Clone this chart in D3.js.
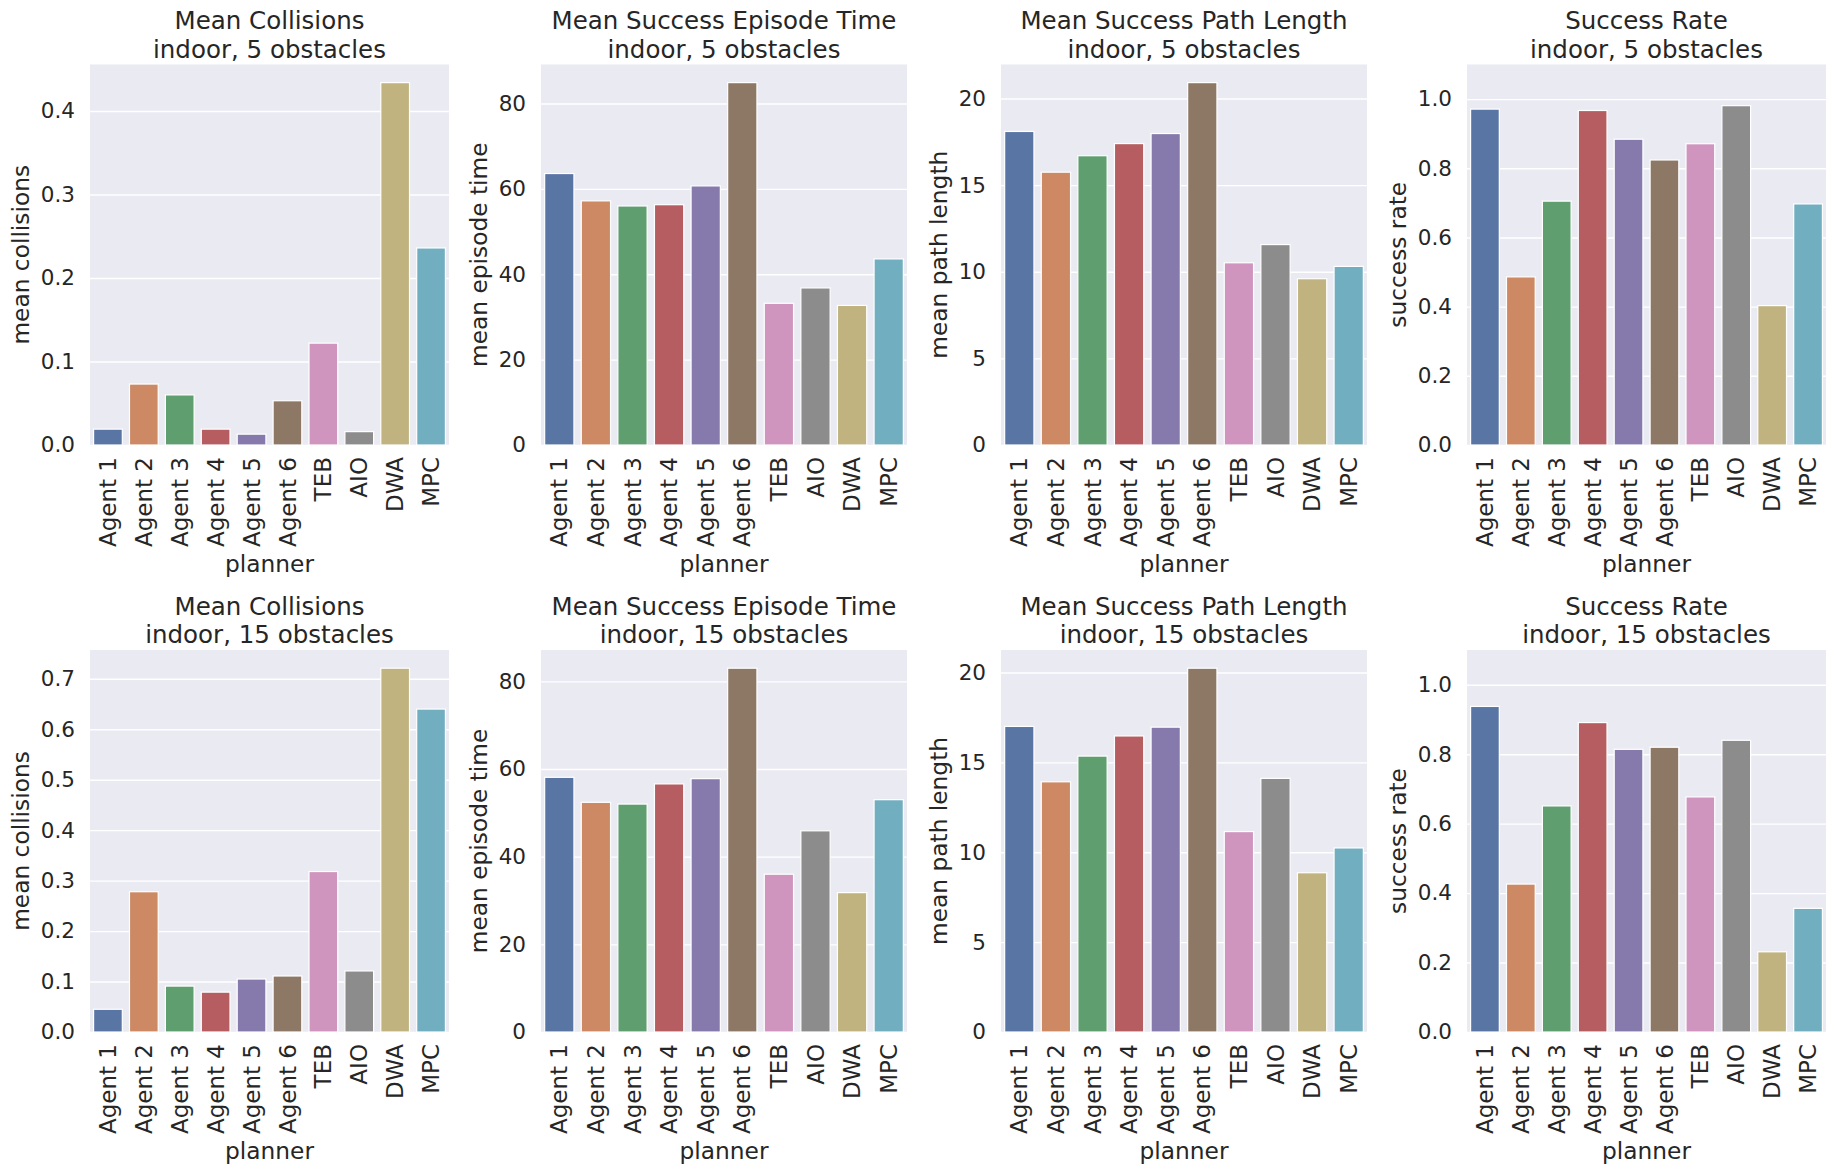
<!DOCTYPE html>
<html>
<head>
<meta charset="utf-8">
<script src="https://cdn.jsdelivr.net/npm/d3@7"></script>
<style>
  html, body { margin: 0; padding: 0; background: #ffffff; }
  svg { display: block; }
  text { font-family: "DejaVu Sans", sans-serif; fill: #262626; }
</style>
</head>
<body>
<svg id="chart" width="1837" height="1174"></svg>
<script>
// ---------------- data ----------------
const planners = ["Agent 1", "Agent 2", "Agent 3", "Agent 4", "Agent 5", "Agent 6", "TEB", "AIO", "DWA", "MPC"];
const barColors = ["#5975a4", "#cc8963", "#5f9e6e", "#b55d60", "#857aab", "#8d7866", "#d095bf", "#8c8c8c", "#c1b37f", "#71aec0"];

const metricTitles = ["Mean Collisions", "Mean Success Episode Time", "Mean Success Path Length", "Success Rate"];
const metricYLabels = ["mean collisions", "mean episode time", "mean path length", "success rate"];
const scenarioTitles = ["indoor, 5 obstacles", "indoor, 15 obstacles"];
const xLabel = "planner";

// indoor, 5 obstacles
const collisions5   = [0.019, 0.073, 0.060, 0.019, 0.013, 0.053, 0.122, 0.016, 0.434, 0.236];
const episodeTime5  = [63.6, 57.2, 56.0, 56.3, 60.7, 84.9, 33.2, 36.8, 32.7, 43.6];
const pathLength5   = [18.1, 15.75, 16.7, 17.4, 17.98, 20.92, 10.52, 11.57, 9.6, 10.31];
const successRate5  = [0.971, 0.486, 0.705, 0.967, 0.884, 0.824, 0.871, 0.981, 0.403, 0.697];

// indoor, 15 obstacles
const collisions15  = [0.045, 0.278, 0.091, 0.079, 0.105, 0.111, 0.318, 0.121, 0.721, 0.640];
const episodeTime15 = [58.1, 52.4, 52.0, 56.6, 57.8, 83.0, 36.0, 45.9, 31.8, 53.0];
const pathLength15  = [17.0, 13.92, 15.35, 16.47, 16.96, 20.24, 11.15, 14.11, 8.86, 10.24];
const successRate15 = [0.9375, 0.426, 0.651, 0.891, 0.814, 0.820, 0.677, 0.840, 0.231, 0.356];

// tick values
const ticksCollisions5  = [0.0, 0.1, 0.2, 0.3, 0.4];
const ticksCollisions15 = [0.0, 0.1, 0.2, 0.3, 0.4, 0.5, 0.6, 0.7];
const ticksEpisode      = [0, 20, 40, 60, 80];
const ticksPath         = [0, 5, 10, 15, 20];
const ticksRate         = [0.0, 0.2, 0.4, 0.6, 0.8, 1.0];
const tickFormats       = [".1f", "d", "d", ".1f"];
const rateAxisMax       = 1.1;

// ---------------- layout ----------------
const colX = [[90, 449], [541, 907], [1001, 1367], [1467, 1826]];
const rowY = [[64.5, 445], [650, 1032]];

const FS_TITLE = 24.5, FS_LABEL = 23.3, FS_YTICK = 21.5, FS_XTICK = 23;

const rows = [
  { scenario: scenarioTitles[0], series: [collisions5, episodeTime5, pathLength5, successRate5],
    ticks: [ticksCollisions5, ticksEpisode, ticksPath, ticksRate] },
  { scenario: scenarioTitles[1], series: [collisions15, episodeTime15, pathLength15, successRate15],
    ticks: [ticksCollisions15, ticksEpisode, ticksPath, ticksRate] }
];

const svg = d3.select("#chart");

rows.forEach((row, ri) => {
  const [top, bottom] = rowY[ri];
  row.series.forEach((values, ci) => {
    const [left, right] = colX[ci];
    const w = right - left, h = bottom - top;
    const g = svg.append("g").attr("transform", `translate(${left},${top})`);

    const x = d3.scaleBand().domain(planners).range([0, w]).paddingInner(0.2).paddingOuter(0.1);
    const yMax = ci === 3 ? rateAxisMax : d3.max(values) * 1.05;
    const y = d3.scaleLinear().domain([0, yMax]).range([h, 0]);

    // background
    g.append("rect").attr("width", w).attr("height", h).attr("fill", "#eaeaf2");

    // grid + y ticks
    const yAxis = d3.axisLeft(y).tickValues(row.ticks[ci]).tickFormat(d3.format(tickFormats[ci]))
      .tickSize(-w).tickPadding(15);
    const ya = g.append("g").call(yAxis);
    ya.select(".domain").remove();
    ya.selectAll(".tick line").attr("stroke", "#ffffff").attr("stroke-width", 1.4);
    ya.selectAll(".tick text").attr("font-size", FS_YTICK).attr("fill", "#262626")
      .style("font-family", "'DejaVu Sans', sans-serif");

    // bars
    g.selectAll("rect.bar").data(values).join("rect")
      .attr("class", "bar")
      .attr("x", (d, i) => x(planners[i]))
      .attr("width", x.bandwidth())
      .attr("y", d => y(d))
      .attr("height", d => h - y(d))
      .attr("fill", (d, i) => barColors[i])
      .attr("stroke", "#ffffff").attr("stroke-width", 1.2);

    // x ticks (rotated)
    const xAxis = d3.axisBottom(x).tickSize(0).tickPadding(0);
    const xa = g.append("g").attr("transform", `translate(0,${h})`).call(xAxis);
    xa.select(".domain").remove();
    xa.selectAll(".tick text")
      .attr("font-size", FS_XTICK).attr("fill", "#262626")
      .style("font-family", "'DejaVu Sans', sans-serif")
      .attr("text-anchor", "end")
      .attr("transform", "translate(0,12) rotate(-90)")
      .attr("x", 0).attr("y", 0).attr("dy", "0.35em");

    // measure tick label extents
    let maxY = 0;
    ya.selectAll(".tick text").each(function () { maxY = Math.max(maxY, this.getComputedTextLength()); });
    let maxX = 0;
    xa.selectAll(".tick text").each(function () { maxX = Math.max(maxX, this.getComputedTextLength()); });

    // y label
    g.append("text")
      .attr("transform", `translate(${-(15 + maxY + 12)},${h / 2}) rotate(-90)`)
      .attr("text-anchor", "middle")
      .attr("font-size", FS_LABEL)
      .text(metricYLabels[ci]);

    // x label
    g.append("text")
      .attr("x", w / 2)
      .attr("y", h + 12 + maxX + 7 + FS_LABEL * 0.76)
      .attr("text-anchor", "middle")
      .attr("font-size", FS_LABEL)
      .text(xLabel);

    // title (two lines)
    g.append("text").attr("x", w / 2).attr("y", -7 - 28.5)
      .attr("text-anchor", "middle").attr("font-size", FS_TITLE).text(metricTitles[ci]);
    g.append("text").attr("x", w / 2).attr("y", -7)
      .attr("text-anchor", "middle").attr("font-size", FS_TITLE).text(row.scenario);
  });
});
</script>
</body>
</html>
